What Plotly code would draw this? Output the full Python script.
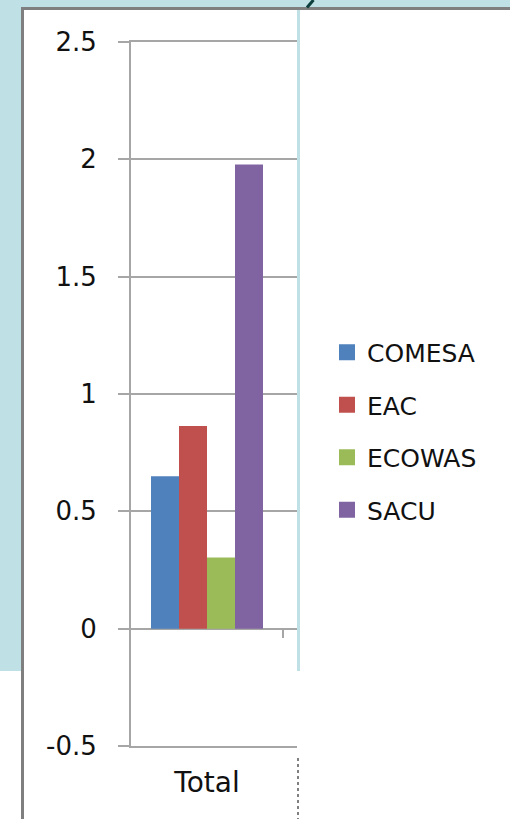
import plotly.graph_objects as go

# ---- data -------------------------------------------------------------
categories = ["Total"]
series_names = ["COMESA", "EAC", "ECOWAS", "SACU"]
series_values = [[0.65], [0.864], [0.303], [1.978]]
series_colors = ["#4f81bd", "#c0504d", "#9bbb59", "#8064a2"]
y_ticks = [-0.5, 0, 0.5, 1, 1.5, 2, 2.5]
y_tick_labels = ["-0.5", "0", "0.5", "1", "1.5", "2", "2.5"]

# ---- page geometry (pixels) ------------------------------------------
FIG_W, FIG_H = 510, 819
PLOT_L, PLOT_T = 131, 42
PLOT_W, PLOT_H = 166, 704
CAT_W = 152  # width of one category slot in pixels
Y_MIN, Y_MAX = -0.5, 2.5
X_RANGE = [-0.5, 0.5 + (PLOT_W - CAT_W) / CAT_W]

SLIDE_BLUE = "#bfe1e6"
FRAME_GREY = "#7f7f7f"
GRID_GREY = "#a6a6a6"
TEXT = "#111111"
FONT = "DejaVu Sans"


def px(x):
    """Pixel column -> paper x."""
    return (x - PLOT_L) / PLOT_W


def py(y):
    """Pixel row -> paper y."""
    return (PLOT_T + PLOT_H - y) / PLOT_H


fig = go.Figure()

for name, vals, col in zip(series_names, series_values, series_colors):
    fig.add_trace(go.Bar(
        x=categories, y=vals, name=name, legendgroup=name,
        marker=dict(color=col, line=dict(width=0)),
        showlegend=False,
    ))
    # legend proxy with a larger square swatch
    fig.add_trace(go.Scatter(
        x=[None], y=[None], mode="markers", name=name, legendgroup=name,
        marker=dict(symbol="square", size=16, color=col, line=dict(width=0)),
        showlegend=True,
    ))

# tick mark on the horizontal axis that crosses at zero
fig.add_trace(go.Scatter(x=[None], y=[None], xaxis="x2", showlegend=False,
                         hoverinfo="skip"))

shapes = [
    # slide background strips
    dict(type="rect", xref="paper", yref="paper", x0=px(0), x1=px(FIG_W),
         y0=py(0), y1=py(8), fillcolor=SLIDE_BLUE, line_width=0, layer="below"),
    dict(type="rect", xref="paper", yref="paper", x0=px(0), x1=px(21),
         y0=py(0), y1=py(671), fillcolor=SLIDE_BLUE, line_width=0, layer="below"),
    # chart frame
    dict(type="line", xref="paper", yref="paper", x0=px(21), x1=px(FIG_W),
         y0=py(8.5), y1=py(8.5), line=dict(color=FRAME_GREY, width=3)),
    dict(type="line", xref="paper", yref="paper", x0=px(22.5), x1=px(22.5),
         y0=py(7), y1=py(FIG_H), line=dict(color=FRAME_GREY, width=3)),
    # slide divider overlapping the chart
    dict(type="rect", xref="paper", yref="paper", x0=px(297), x1=px(300),
         y0=py(10), y1=py(671), fillcolor=SLIDE_BLUE, line_width=0, layer="above"),
    dict(type="line", xref="paper", yref="paper", x0=px(298), x1=px(298),
         y0=py(758), y1=py(FIG_H), line=dict(color="#808080", width=2, dash="dot")),
    dict(type="line", xref="paper", yref="paper", x0=px(307), x1=px(313.5),
         y0=py(7.5), y1=py(0), line=dict(color="#0d3f3c", width=3)),
]

fig.update_layout(
    width=FIG_W, height=FIG_H, autosize=False,
    margin=dict(l=PLOT_L, t=PLOT_T, r=FIG_W - PLOT_L - PLOT_W,
                b=FIG_H - PLOT_T - PLOT_H, pad=0),
    paper_bgcolor="white", plot_bgcolor="white",
    barmode="group", bargap=(CAT_W - 4 * 28) / CAT_W, bargroupgap=0,
    font=dict(family=FONT, color=TEXT),
    showlegend=True,
    legend=dict(
        xref="container", yref="container",
        x=327 / FIG_W, y=1 - 431 / FIG_H, xanchor="left", yanchor="middle",
        font=dict(family=FONT, size=25, color=TEXT),
        traceorder="grouped", tracegroupgap=17,
        bgcolor="rgba(0,0,0,0)", borderwidth=0,
    ),
    xaxis=dict(
        type="category", range=X_RANGE, showgrid=False, zeroline=False,
        showline=True, mirror=True, linecolor=GRID_GREY, linewidth=2,
        ticks="", tickfont=dict(size=28, color=TEXT),
        ticklabelstandoff=10,
    ),
    xaxis2=dict(
        overlaying="x", anchor="free", position=(0 - Y_MIN) / (Y_MAX - Y_MIN),
        range=X_RANGE, tickvals=[0.5], ticks="outside", ticklen=8,
        tickwidth=2, tickcolor=GRID_GREY, showticklabels=False,
        showgrid=False, zeroline=False, showline=False,
    ),
    yaxis=dict(
        range=[Y_MIN, Y_MAX], tickvals=y_ticks, ticktext=y_tick_labels,
        showgrid=True, gridcolor=GRID_GREY, gridwidth=2,
        zeroline=True, zerolinecolor=GRID_GREY, zerolinewidth=2,
        showline=True, linecolor=GRID_GREY, linewidth=2,
        ticks="outside", ticklen=11, tickwidth=2, tickcolor=GRID_GREY,
        tickfont=dict(size=26, color=TEXT), ticklabelstandoff=16,
    ),
    shapes=shapes,
)

fig.write_html("out.html")
